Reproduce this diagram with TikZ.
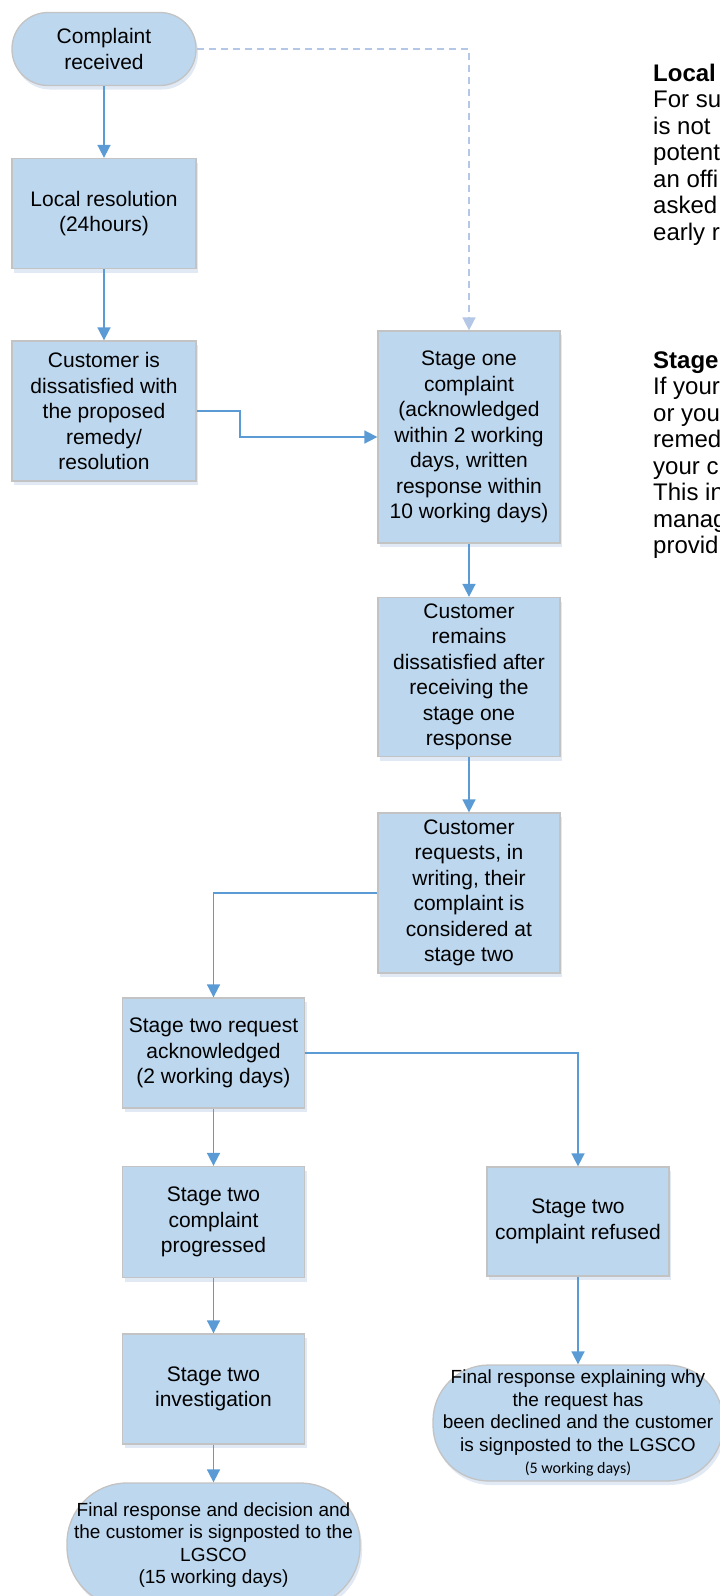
\documentclass[tikz,border=0pt]{standalone}
\usepackage{fontspec}
\setmainfont{Liberation Sans}
\newfontfamily\calibri{Carlito}
\usetikzlibrary{arrows.meta,shadows}
\definecolor{boxblue}{RGB}{189,215,238}
\definecolor{edgegray}{RGB}{195,195,195}
\definecolor{linkblue}{RGB}{91,155,213}
\definecolor{dashblue}{RGB}{180,199,231}
\definecolor{shadowblue}{RGB}{205,218,236}
\tikzset{
  procbox/.style={draw=edgegray, line width=1.3pt, fill=boxblue, align=center,
    inner sep=2pt, font=\fontsize{21}{25.5}\selectfont,
    drop shadow={shadow xshift=2pt, shadow yshift=-4pt, fill=shadowblue, opacity=0.6}},
  termpill/.style={procbox},
  flow/.style={draw=linkblue, line width=1.7pt, -{Triangle[length=13pt,width=13pt]}},
  dashflow/.style={draw=dashblue, line width=1.7pt, dash pattern=on 7pt off 5pt,
    -{Triangle[length=13pt,width=13pt,fill=dashblue]}},
  sidetext/.style={anchor=base west, inner sep=0pt, font=\fontsize{24}{27}\selectfont}
}
\begin{document}
\begin{tikzpicture}[x=1pt,y=-1pt]
\useasboundingbox (0,0) rectangle (720,1596);
% nodes
\node[termpill, minimum width=184pt, minimum height=73pt, rounded corners=36pt] (cr) at (104,49) {Complaint\\received};
\node[procbox, minimum width=184pt, minimum height=110pt] (lr) at (104,213.5) {Local resolution\\(24hours)};
\node[procbox, minimum width=184pt, minimum height=140pt] (cd) at (104,411) {Customer is\\dissatisfied with\\the proposed\\remedy/\\resolution};
\node[procbox, minimum width=182pt, minimum height=212pt] (s1) at (469,437) {Stage one\\complaint\\(acknowledged\\within 2 working\\days, written\\response within\\10 working days)};
\node[procbox, minimum width=182pt, minimum height=159pt] (crm) at (469,677) {Customer\\remains\\dissatisfied after\\receiving the\\stage one\\response};
\node[procbox, minimum width=182pt, minimum height=160pt] (crq) at (469,893) {Customer\\requests, in\\writing, their\\complaint is\\considered at\\stage two};
\node[procbox, minimum width=182pt, minimum height=110pt] (s2a) at (213.5,1053) {Stage two request\\acknowledged\\(2 working days)};
\node[procbox, minimum width=182pt, minimum height=111pt] (s2p) at (213.5,1222) {Stage two\\complaint\\progressed};
\node[procbox, minimum width=182pt, minimum height=110pt] (s2i) at (213.5,1389) {Stage two\\investigation};
\node[procbox, minimum width=182pt, minimum height=109pt] (ref) at (578,1221.5) {Stage two\\complaint refused};
\node[termpill, minimum width=293pt, minimum height=124pt, rounded corners=60pt, font=\fontsize{19}{22.5}\selectfont] (fl) at (213.5,1545) {Final response and decision and\\the customer is signposted to the\\LGSCO\\(15 working days)};
\node[termpill, minimum width=290pt, minimum height=116pt, rounded corners=56pt, font=\fontsize{19}{22.5}\selectfont] (fr) at (578,1423) {Final response explaining why\\the request has\\been declined and the customer\\is signposted to the LGSCO\\{\calibri\fontsize{16}{20}\selectfont (5 working days)}};
% connectors
\draw[dashflow] (cr.east) -| (s1.north);
\draw[flow] (cr.south) -- (lr.north);
\draw[flow] (lr.south) -- (cd.north);
\draw[flow] (cd.east) -- ++(43,0) coordinate (k1) |- (s1.west);
\draw[flow] (s1.south) -- (crm.north);
\draw[flow] (crm.south) -- (crq.north);
\draw[flow] (crq.west) -| (s2a.north);
\draw[flow] (s2a.east) -| (ref.north);
\draw[flow] (s2a.south) -- (s2p.north);
\draw[flow] (s2p.south) -- (s2i.north);
\draw[flow] (s2i.south) -- (fl.north);
\draw[flow] (ref.south) -- (fr.north);
% side text (clipped at the page edge)
\node[sidetext] (ta1) at (653,81) {\textbf{Local}};
\node[sidetext] (ta2) at (653,107.5) {For su};
\node[sidetext] (ta3) at (653,134) {is not};
\node[sidetext] (ta4) at (653,160.5) {potent};
\node[sidetext] (ta5) at (653,187) {an offi};
\node[sidetext] (ta6) at (653,213.5) {asked};
\node[sidetext] (ta7) at (653,240) {early r};
\node[sidetext] (tb1) at (653,368) {\textbf{Stage}};
\node[sidetext] (tb2) at (653,394.5) {If your};
\node[sidetext] (tb3) at (653,421) {or you};
\node[sidetext] (tb4) at (653,447.5) {remed};
\node[sidetext] (tb5) at (653,474) {your c};
\node[sidetext] (tb6) at (653,500.5) {This in};
\node[sidetext] (tb7) at (653,527) {manag};
\node[sidetext] (tb8) at (653,553.5) {provid};
\end{tikzpicture}
\end{document}
